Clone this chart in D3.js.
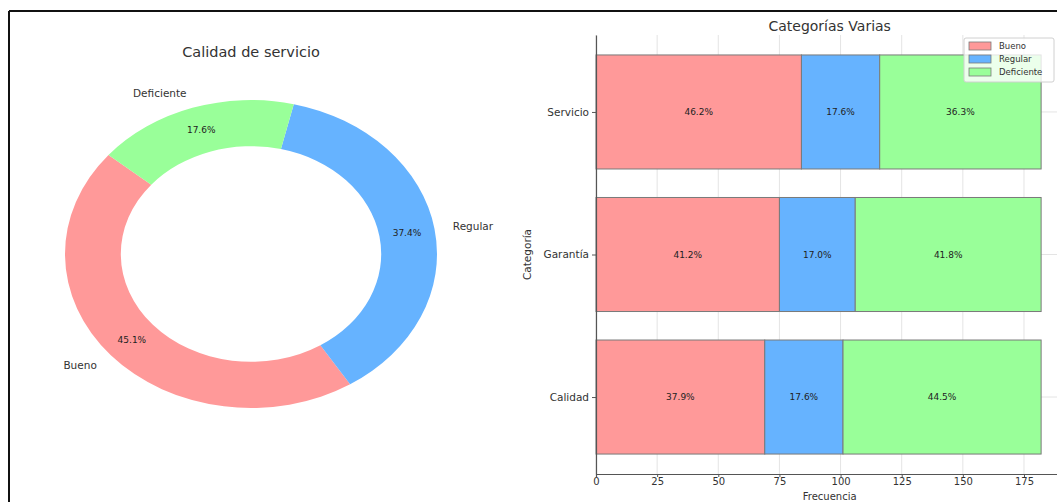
<!DOCTYPE html>
<html>
<head>
<meta charset="utf-8">
<script src="https://cdn.jsdelivr.net/npm/d3@7"></script>
<style>
  html, body { margin: 0; padding: 0; background: #fff; }
  text { font-family: "DejaVu Sans", sans-serif; }
</style>
</head>
<body>
<div id="chart"></div>
<script>
// ---- Data ----
const pieLabels = ["Bueno", "Regular", "Deficiente"];
const pieValues = [82, 68, 32];
const pieColors = ["#ff9999", "#66b3ff", "#99ff99"];

const barCategories = ["Calidad", "Garantía", "Servicio"];
const seriesNames = ["Bueno", "Regular", "Deficiente"];
const buenoValues = [69, 75, 84];
const regularValues = [32, 31, 32];
const deficienteValues = [81, 76, 66];
const xTicks = [0, 25, 50, 75, 100, 125, 150, 175];

(function () {
const W = 1057, H = 502;
const svg = d3.select("#chart").append("svg")
  .attr("width", W).attr("height", H);
svg.append("rect").attr("width", W).attr("height", H).attr("fill", "#fff");

// frame lines of the screenshot
svg.append("line").attr("x1", 9).attr("x2", W).attr("y1", 11).attr("y2", 11)
  .attr("stroke", "#111").attr("stroke-width", 2);
svg.append("line").attr("x1", 9).attr("x2", 9).attr("y1", 11).attr("y2", H)
  .attr("stroke", "#111").attr("stroke-width", 2);

// ---- Donut ----
const cx = 251, cy = 254, rx = 186, ry = 154;
const R = rx, innerR = rx * 0.7;
const sy = ry / rx;
const deg = Math.PI / 180;
const start = (90 - 140) * deg;
const pie = d3.pie().sort(null).startAngle(start).endAngle(start - 2 * Math.PI);
const arcs = pie(pieValues);
const arc = d3.arc().innerRadius(innerR).outerRadius(R);
const total = d3.sum(pieValues);

const pg = svg.append("g").attr("transform", `translate(${cx},${cy}) scale(1,${sy})`);
pg.selectAll("path").data(arcs).join("path")
  .attr("d", arc)
  .attr("fill", (d, i) => pieColors[i]);

svg.append("text").attr("x", cx).attr("y", 57).attr("text-anchor", "middle")
  .attr("font-size", 14.5).attr("fill", "#333").text("Calidad de servicio");

arcs.forEach((d, i) => {
  const a = (d.startAngle + d.endAngle) / 2;
  const lx = cx + 1.1 * rx * Math.sin(a), ly = cy - 1.1 * ry * Math.cos(a);
  svg.append("text").attr("x", lx).attr("y", ly).attr("dy", "0.35em")
    .attr("text-anchor", lx >= cx ? "start" : "end")
    .attr("font-size", 10.5).attr("fill", "#333").text(pieLabels[i]);
  const px = cx + 0.85 * rx * Math.sin(a), py = cy - 0.85 * ry * Math.cos(a);
  svg.append("text").attr("x", px).attr("y", py).attr("dy", "0.35em")
    .attr("text-anchor", "middle")
    .attr("font-size", 9).attr("fill", "#222").text(d3.format(".1%")(pieValues[i] / total));
});

// ---- Stacked horizontal bar ----
const seriesValues = [buenoValues, regularValues, deficienteValues];
const totals = barCategories.map((c, i) => d3.sum(seriesValues, s => s[i]));
const xMax = d3.max(totals) * 1.05;
const x = d3.scaleLinear().domain([0, xMax]).range([596, 596 + xMax * 2.4457]);
const y = d3.scaleLinear().domain([-0.54, 2.54]).range([474, 35]);
const axTop = 35, axBottom = 474, axLeft = 596, axRight = x(xMax);

const grid = svg.append("g");
xTicks.forEach(t => {
  grid.append("line").attr("x1", x(t)).attr("x2", x(t)).attr("y1", axTop).attr("y2", axBottom)
    .attr("stroke", "#e4e4e4").attr("stroke-width", 1);
});
barCategories.forEach((c, i) => {
  grid.append("line").attr("x1", axLeft).attr("x2", axRight).attr("y1", y(i)).attr("y2", y(i))
    .attr("stroke", "#e4e4e4").attr("stroke-width", 1);
});

const bars = svg.append("g");
barCategories.forEach((c, i) => {
  let acc = 0;
  seriesValues.forEach((s, k) => {
    const v = s[i];
    bars.append("rect")
      .attr("x", x(acc)).attr("width", x(acc + v) - x(acc))
      .attr("y", y(i + 0.4)).attr("height", y(i - 0.4) - y(i + 0.4))
      .attr("fill", pieColors[k]).attr("stroke", "#7a7a7a").attr("stroke-width", 1);
    bars.append("text")
      .attr("x", x(acc + v / 2)).attr("y", y(i)).attr("dy", "0.35em")
      .attr("text-anchor", "middle").attr("font-size", 9).attr("fill", "#222")
      .text(d3.format(".1%")(v / totals[i]));
    acc += v;
  });
});

// axes
const xAxis = d3.axisBottom(x).tickValues(xTicks).tickSize(3).tickPadding(1);
const xg = svg.append("g").attr("transform", `translate(0,${axBottom})`).call(xAxis);
xg.select(".domain").attr("stroke", "#555").attr("stroke-width", 1.2);
xg.selectAll(".tick line").attr("stroke", "#555");
xg.selectAll(".tick text").attr("font-size", 10).attr("fill", "#333")
  .attr("font-family", "DejaVu Sans, sans-serif");

const yAxis = d3.axisLeft(y).tickValues([0, 1, 2]).tickFormat(i => barCategories[i])
  .tickSize(4).tickSizeOuter(0).tickPadding(3);
const yg = svg.append("g").attr("transform", `translate(${axLeft},0)`).call(yAxis);
yg.select(".domain").attr("stroke", "#555").attr("stroke-width", 1.2);
yg.selectAll(".tick line").attr("stroke", "#555");
yg.selectAll(".tick text").attr("font-size", 10.5).attr("fill", "#333")
  .attr("font-family", "DejaVu Sans, sans-serif");

svg.append("text").attr("x", (axLeft + axRight) / 2).attr("y", 500).attr("text-anchor", "middle")
  .attr("font-size", 10).attr("fill", "#333").text("Frecuencia");
svg.append("text").attr("transform", `translate(531,${(axTop + axBottom) / 2}) rotate(-90)`)
  .attr("text-anchor", "middle").attr("font-size", 10.5).attr("fill", "#333").text("Categoría");
svg.append("text").attr("x", (axLeft + axRight) / 2).attr("y", 31).attr("text-anchor", "middle")
  .attr("font-size", 14).attr("fill", "#333").text("Categorías Varias");

// legend
const lg = svg.append("g");
lg.append("rect").attr("x", 964).attr("y", 38).attr("width", 90).attr("height", 44)
  .attr("fill", "#fff").attr("fill-opacity", 0.8).attr("stroke", "#d0d0d0").attr("rx", 2);
seriesNames.forEach((n, k) => {
  const yy = 46 + k * 13;
  lg.append("rect").attr("x", 969).attr("y", yy - 4).attr("width", 22).attr("height", 8)
    .attr("fill", pieColors[k]).attr("stroke", "#7a7a7a").attr("stroke-width", 0.8);
  lg.append("text").attr("x", 999).attr("y", yy).attr("dy", "0.35em")
    .attr("font-size", 8.5).attr("fill", "#333").text(n);
});
})();
</script>
</body>
</html>
